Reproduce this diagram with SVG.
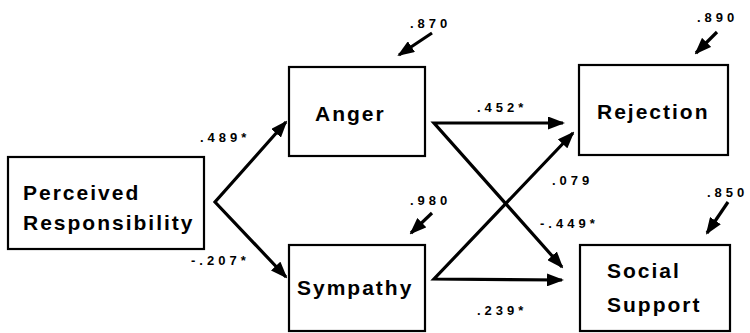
<svg xmlns="http://www.w3.org/2000/svg" width="750" height="333" viewBox="0 0 750 333">
<style>
.box{fill:#fff;stroke:#000;stroke-width:2.2}
.lbl{font-family:"Liberation Sans",Arial,sans-serif;font-weight:bold;font-size:21px;letter-spacing:2px;fill:#000}
.num{font-family:"Liberation Sans",Arial,sans-serif;font-weight:bold;font-size:13px;letter-spacing:4px;fill:#000}
.arr{fill:none;stroke:#000;stroke-width:3.2;stroke-linejoin:miter;marker-end:url(#ah)}
.arr2{fill:none;stroke:#000;stroke-width:3.2;stroke-linejoin:miter;marker-start:url(#ah);marker-end:url(#ah)}
</style>
<defs>
<marker id="ah" markerUnits="userSpaceOnUse" markerWidth="17" markerHeight="13" refX="15" refY="6.5" orient="auto-start-reverse">
<path d="M0,0 L17,6.5 L0,13 z" fill="#000"/>
</marker>
</defs>
<rect width="750" height="333" fill="#fff"/>
<g id="connectors">
<path class="arr2" d="M286,122 L215,202 L286,277"/>
<path class="arr2" d="M563,123 L434,123 L562,267"/>
<path class="arr2" d="M573,133 L434,279 L562,280"/>
<path class="arr" d="M432,33 L399,55"/>
<path class="arr" d="M432,213 L411,233"/>
<path class="arr" d="M717,32 L696,53"/>
<path class="arr" d="M728,202 L707,233"/>
<text class="num" x="200" y="142">.489*</text>
<text class="num" x="191" y="265">-.207*</text>
<text class="num" x="477" y="112">.452*</text>
<text class="num" x="477" y="315">.239*</text>
<text class="num" x="552" y="185">.079</text>
<text class="num" x="540" y="228">-.449*</text>
<text class="num" x="410" y="28">.870</text>
<text class="num" x="410" y="205">.980</text>
<text class="num" x="697" y="22">.890</text>
<text class="num" x="707" y="197">.850</text>
</g>
<g id="perceived">
<rect class="box" x="8" y="157" width="196" height="92"/>
<text class="lbl" x="23" y="200">Perceived</text>
<text class="lbl" x="23" y="230">Responsibility</text>
</g>
<g id="anger">
<rect class="box" x="289" y="67" width="136" height="89"/>
<text class="lbl" x="315" y="121">Anger</text>
</g>
<g id="sympathy">
<rect class="box" x="289" y="245" width="136" height="86"/>
<text class="lbl" x="297" y="295">Sympathy</text>
</g>
<g id="rejection">
<rect class="box" x="579" y="65" width="149" height="90"/>
<text class="lbl" x="597" y="119">Rejection</text>
</g>
<g id="social">
<rect class="box" x="580" y="245" width="150" height="86"/>
<text class="lbl" x="607" y="278">Social</text>
<text class="lbl" x="607" y="312">Support</text>
</g>
</svg>
